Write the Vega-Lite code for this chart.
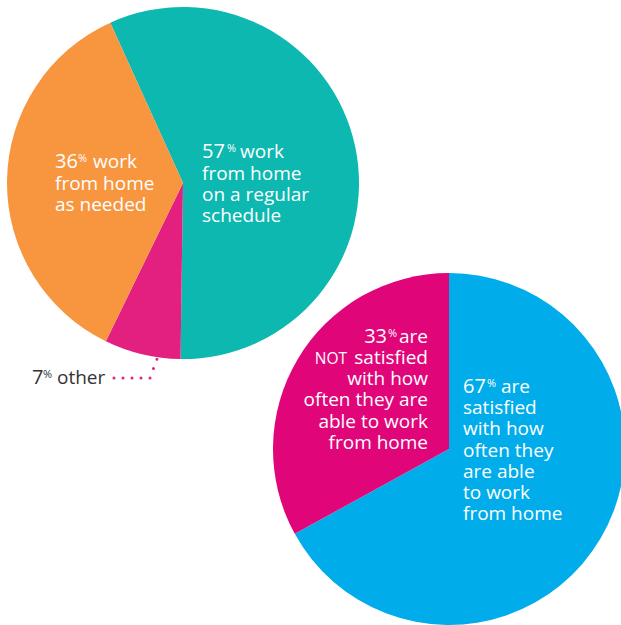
{
  "$schema": "https://vega.github.io/schema/vega-lite/v6.json",
  "width": 621,
  "height": 625,
  "padding": 0,
  "autosize": {"type": "none"},
  "background": "#ffffff",
  "config": {"view": {"stroke": null}, "text": {"font": "Open Sans", "fontSize": 19, "fill": "#ffffff", "baseline": "alphabetic", "lineHeight": 21.2}},
  "datasets": {
    "slices": [
      {"pie": "A", "segment": "regular schedule", "value": 57, "rank": 1, "lead": "work", "lines": ["from home", "on a regular", "schedule"]},
      {"pie": "A", "segment": "other", "value": 7, "rank": 2, "lead": "other", "lines": []},
      {"pie": "A", "segment": "as needed", "value": 36, "rank": 3, "lead": "work", "lines": ["from home", "as needed"]},
      {"pie": "B", "segment": "satisfied", "value": 67, "rank": 1, "lead": "are", "lines": ["satisfied", "with how", "often they", "are able", "to work", "from home"]},
      {"pie": "B", "segment": "not satisfied", "value": 33, "rank": 2, "lead": "are", "caps": "NOT", "lines": ["satisfied", "with how", "often they are", "able to work", "from home"]}
    ]
  },
  "data": {"name": "slices"},
  "encoding": {
    "x": {"field": "pie", "type": "nominal", "scale": {"type": "point", "domain": ["A", "B"], "range": [183, 449], "padding": 0}, "axis": null},
    "y": {"field": "pie", "type": "nominal", "scale": {"type": "point", "domain": ["A", "B"], "range": [183, 449], "padding": 0}, "axis": null}
  },
  "layer": [
    {
      "transform": [{"filter": "datum.pie === 'A'"}],
      "mark": {"type": "arc", "outerRadius": 176},
      "encoding": {
        "theta": {"field": "value", "type": "quantitative", "stack": true, "scale": {"range": [-0.4259, 5.8573]}},
        "order": {"field": "rank", "type": "quantitative"},
        "color": {"field": "segment", "type": "nominal", "legend": null,
          "scale": {"domain": ["regular schedule", "other", "as needed", "satisfied", "not satisfied"], "range": ["#0cb8b0", "#e3207f", "#f7963f", "#00adea", "#e0067a"]}}
      }
    },
    {
      "transform": [{"filter": "datum.pie === 'B'"}],
      "mark": {"type": "arc", "outerRadius": 176},
      "encoding": {
        "theta": {"field": "value", "type": "quantitative", "stack": true, "scale": {"range": [0, 6.2832]}},
        "order": {"field": "rank", "type": "quantitative"},
        "color": {"field": "segment", "type": "nominal", "legend": null}
      }
    },
    {"transform": [{"filter": "datum.segment === 'regular schedule'"}], "mark": {"type": "text", "align": "left", "dx": 19, "dy": -25, "fontSize": 20}, "encoding": {"text": {"field": "value", "type": "nominal"}}},
    {"transform": [{"filter": "datum.segment === 'regular schedule'"}], "mark": {"type": "text", "align": "left", "dx": 44, "dy": -31, "fontSize": 11}, "encoding": {"text": {"value": "%"}}},
    {"transform": [{"filter": "datum.segment === 'regular schedule'"}], "mark": {"type": "text", "align": "left", "dx": 57, "dy": -25}, "encoding": {"text": {"field": "lead", "type": "nominal"}}},
    {"transform": [{"filter": "datum.segment === 'regular schedule'"}], "mark": {"type": "text", "align": "left", "dx": 19, "dy": -3.5}, "encoding": {"text": {"field": "lines", "type": "nominal"}}},

    {"transform": [{"filter": "datum.segment === 'as needed'"}], "mark": {"type": "text", "align": "left", "dx": -128, "dy": -15, "fontSize": 20}, "encoding": {"text": {"field": "value", "type": "nominal"}}},
    {"transform": [{"filter": "datum.segment === 'as needed'"}], "mark": {"type": "text", "align": "left", "dx": -105, "dy": -21, "fontSize": 11}, "encoding": {"text": {"value": "%"}}},
    {"transform": [{"filter": "datum.segment === 'as needed'"}], "mark": {"type": "text", "align": "left", "dx": -90, "dy": -15}, "encoding": {"text": {"field": "lead", "type": "nominal"}}},
    {"transform": [{"filter": "datum.segment === 'as needed'"}], "mark": {"type": "text", "align": "left", "dx": -128, "dy": 6.5}, "encoding": {"text": {"field": "lines", "type": "nominal"}}},

    {"transform": [{"filter": "datum.segment === 'other'"}], "mark": {"type": "text", "align": "left", "dx": -151, "dy": 201, "fill": "#333333", "fontSize": 20}, "encoding": {"text": {"field": "value", "type": "nominal"}}},
    {"transform": [{"filter": "datum.segment === 'other'"}], "mark": {"type": "text", "align": "left", "dx": -140, "dy": 195, "fontSize": 11, "fill": "#333333"}, "encoding": {"text": {"value": "%"}}},
    {"transform": [{"filter": "datum.segment === 'other'"}], "mark": {"type": "text", "align": "left", "dx": -126, "dy": 201, "fill": "#333333"}, "encoding": {"text": {"field": "lead", "type": "nominal"}}},
    {"transform": [{"filter": "datum.segment === 'other'"}], "mark": {"type": "rule", "xOffset": -69, "x2Offset": -33, "yOffset": 195, "y2Offset": 195, "strokeDash": [0, 9], "strokeCap": "round", "strokeWidth": 3, "color": "#e3207f"}, "encoding": {"x2": {"field": "pie"}, "y2": {"field": "pie"}}},
    {"transform": [{"filter": "datum.segment === 'other'"}], "mark": {"type": "rule", "xOffset": -33, "x2Offset": -26, "yOffset": 195, "y2Offset": 176, "strokeDash": [0, 10], "strokeCap": "round", "strokeWidth": 3, "color": "#e3207f"}, "encoding": {"x2": {"field": "pie"}, "y2": {"field": "pie"}}},

    {"transform": [{"filter": "datum.segment === 'not satisfied'"}], "mark": {"type": "text", "align": "right", "dx": -62, "dy": -106, "fontSize": 20}, "encoding": {"text": {"field": "value", "type": "nominal"}}},
    {"transform": [{"filter": "datum.segment === 'not satisfied'"}], "mark": {"type": "text", "align": "left", "dx": -61, "dy": -112, "fontSize": 11}, "encoding": {"text": {"value": "%"}}},
    {"transform": [{"filter": "datum.segment === 'not satisfied'"}], "mark": {"type": "text", "align": "right", "dx": -21, "dy": -106}, "encoding": {"text": {"field": "lead", "type": "nominal"}}},
    {"transform": [{"filter": "datum.segment === 'not satisfied'"}], "mark": {"type": "text", "align": "right", "dx": -102, "dy": -85, "fontSize": 15.5}, "encoding": {"text": {"field": "caps", "type": "nominal"}}},
    {"transform": [{"filter": "datum.segment === 'not satisfied'"}], "mark": {"type": "text", "align": "right", "dx": -21, "dy": -85}, "encoding": {"text": {"field": "lines", "type": "nominal"}}},

    {"transform": [{"filter": "datum.segment === 'satisfied'"}], "mark": {"type": "text", "align": "left", "dx": 14, "dy": -56, "fontSize": 20}, "encoding": {"text": {"field": "value", "type": "nominal"}}},
    {"transform": [{"filter": "datum.segment === 'satisfied'"}], "mark": {"type": "text", "align": "left", "dx": 38, "dy": -62, "fontSize": 11}, "encoding": {"text": {"value": "%"}}},
    {"transform": [{"filter": "datum.segment === 'satisfied'"}], "mark": {"type": "text", "align": "left", "dx": 52, "dy": -56}, "encoding": {"text": {"field": "lead", "type": "nominal"}}},
    {"transform": [{"filter": "datum.segment === 'satisfied'"}], "mark": {"type": "text", "align": "left", "dx": 14, "dy": -34.8}, "encoding": {"text": {"field": "lines", "type": "nominal"}}}
  ],
  "resolve": {"scale": {"theta": "independent"}}
}
